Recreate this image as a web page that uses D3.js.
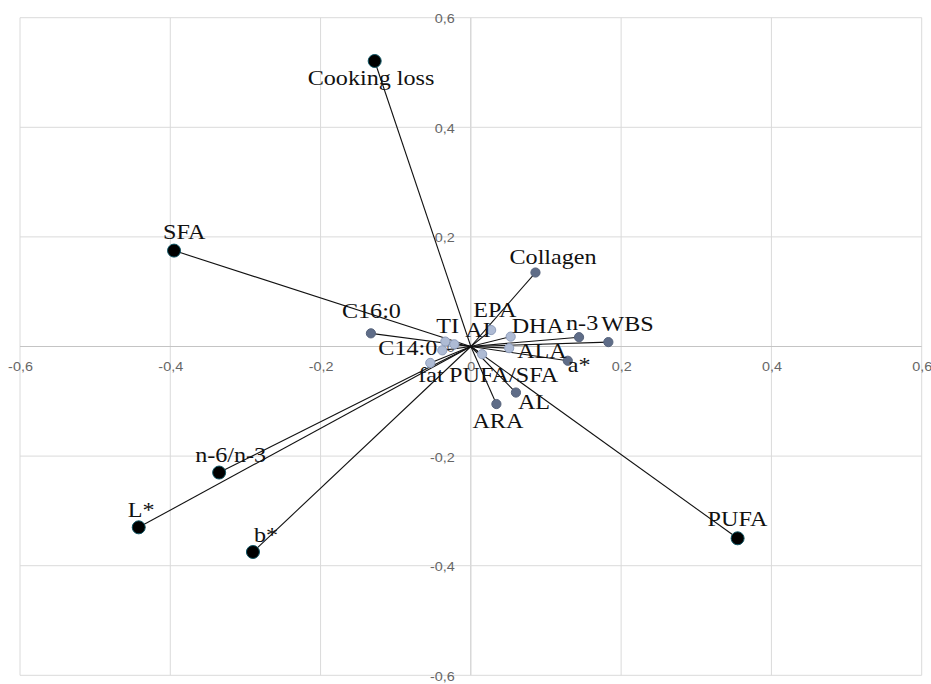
<!DOCTYPE html>
<html>
<head>
<meta charset="utf-8">
<script src="https://cdn.jsdelivr.net/npm/d3@7"></script>
<style>
  html, body { margin: 0; padding: 0; background: #fff; }
  svg { display: block; }
  .tick text { font-family: "Liberation Sans", Arial, sans-serif; font-size: 12px; fill: #666; }
  .var-label { font-family: "Liberation Serif", "Times New Roman", serif; font-size: 21px; fill: #111; }
</style>
</head>
<body>
<svg id="chart" width="931" height="684"></svg>
<script>
// PCA loadings (PC1, PC2) of meat quality and fatty acid variables

// Variables with large loadings (black markers)
const primaryNames = ["Cooking loss", "SFA", "n-6/n-3", "L*", "b*", "PUFA"];
const primaryPC1   = [-0.128, -0.395, -0.335, -0.442, -0.290, 0.355];
const primaryPC2   = [0.521, 0.175, -0.230, -0.330, -0.375, -0.350];

// Variables with moderate loadings (dark grey markers)
const secondaryNames = ["Collagen", "n-3", "WBS", "a*", "AL", "ARA", "C16:0"];
const secondaryPC1   = [0.086, 0.144, 0.183, 0.129, 0.060, 0.034, -0.133];
const secondaryPC2   = [0.135, 0.017, 0.008, -0.026, -0.084, -0.105, 0.024];

// Variables with small loadings (light markers)
const minorNames = ["EPA", "DHA", "ALA", "PUFA/SFA", "TI", "AI", "C14:0", "fat"];
const minorPC1   = [0.027, 0.053, 0.051, 0.015, -0.034, -0.022, -0.038, -0.054];
const minorPC2   = [0.030, 0.018, -0.003, -0.014, 0.009, 0.004, -0.007, -0.030];

const xTicks = [-0.6, -0.4, -0.2, 0, 0.2, 0.4, 0.6];
const yTicks = [-0.6, -0.4, -0.2, 0, 0.2, 0.4, 0.6];

// Label placement relative to each marker (px, left edge / baseline)
const labelOffset = {
  "Cooking loss": [-67, 24], "SFA": [-11, -12], "n-6/n-3": [-24, -11], "L*": [-11, -10],
  "b*": [1, -10], "PUFA": [-30, -12], "Collagen": [-26, -9], "n-3": [-13, -7],
  "WBS": [-7, -11], "a*": [0, 11], "AL": [2, 16], "ARA": [-24, 24], "C16:0": [-29, -15],
  "EPA": [-18, -13], "DHA": [1, -4], "ALA": [8, 10], "PUFA/SFA": [-33, 28],
  "TI": [-9, -9], "AI": [11, -7], "C14:0": [-64, 5], "fat": [-12, 19]
};

const svg = d3.select("#chart");
const x = d3.scaleLinear().domain([-0.6, 0.6]).range([20, 921.7]);
const y = d3.scaleLinear().domain([-0.6, 0.6]).range([675.3, 17.7]);

const locale = d3.formatLocale({ decimal: ",", thousands: " ", grouping: [3], currency: ["", ""], minus: "-" });
const fmt = v => (Math.abs(v) < 1e-9 ? "0" : locale.format(".1f")(v));

// Grid
const grid = svg.append("g");
grid.selectAll("line.vg").data(xTicks).join("line")
  .attr("x1", d => x(d)).attr("x2", d => x(d))
  .attr("y1", y(0.6)).attr("y2", y(-0.6))
  .attr("stroke", d => d === 0 ? "#c4c4c4" : "#dadada").attr("stroke-width", 1);
grid.selectAll("line.hg").data(yTicks).join("line")
  .attr("x1", x(-0.6)).attr("x2", x(0.6))
  .attr("y1", d => y(d)).attr("y2", d => y(d))
  .attr("stroke", d => d === 0 ? "#c4c4c4" : "#dadada").attr("stroke-width", 1);

// Axis tick labels, drawn through the origin
const xAxis = svg.append("g").attr("transform", `translate(0,${y(0)})`)
  .call(d3.axisBottom(x).tickValues(xTicks).tickFormat(fmt).tickSize(0).tickPadding(16));
xAxis.select(".domain").remove();
xAxis.selectAll("text").attr("transform", "scale(1.2,1)");

const yAxis = svg.append("g").attr("transform", `translate(${x(0)},0)`)
  .call(d3.axisLeft(y).tickValues(yTicks).tickFormat(fmt).tickSize(0).tickPadding(16));
yAxis.select(".domain").remove();
yAxis.selectAll("text").attr("x", -16 / 1.2).attr("dy", "0.42em").attr("transform", "scale(1.2,1)");

// Assemble loading vectors
const build = (names, a, b, kind) => names.map((n, i) => ({ name: n, pc1: a[i], pc2: b[i], kind }));
const vars = [
  ...build(minorNames, minorPC1, minorPC2, "minor"),
  ...build(secondaryNames, secondaryPC1, secondaryPC2, "secondary"),
  ...build(primaryNames, primaryPC1, primaryPC2, "primary")
];

// Vectors from the origin
svg.append("g").selectAll("line").data(vars).join("line")
  .attr("x1", x(0)).attr("y1", y(0))
  .attr("x2", d => x(d.pc1)).attr("y2", d => y(d.pc2))
  .attr("stroke", "#111").attr("stroke-width", 1.1);

// Markers
const fill = { primary: "#000", secondary: "#5f6d88", minor: "#aebbd4" };
const edge = { primary: "#0e5564", secondary: "#56637c", minor: "#8e9dbb" };
const radius = { primary: 6.5, secondary: 4.6, minor: 4.6 };
svg.append("g").selectAll("circle").data(vars).join("circle")
  .attr("cx", d => x(d.pc1)).attr("cy", d => y(d.pc2))
  .attr("r", d => radius[d.kind])
  .attr("fill", d => fill[d.kind])
  .attr("stroke", d => edge[d.kind]).attr("stroke-width", 1);

// Variable labels
svg.append("g").selectAll("text").data(vars).join("text")
  .attr("class", "var-label")
  .attr("transform", d => {
    const o = labelOffset[d.name];
    return `translate(${x(d.pc1) + o[0]},${y(d.pc2) + o[1]}) scale(1.15,1)`;
  })
  .text(d => d.name);
</script>
</body>
</html>
